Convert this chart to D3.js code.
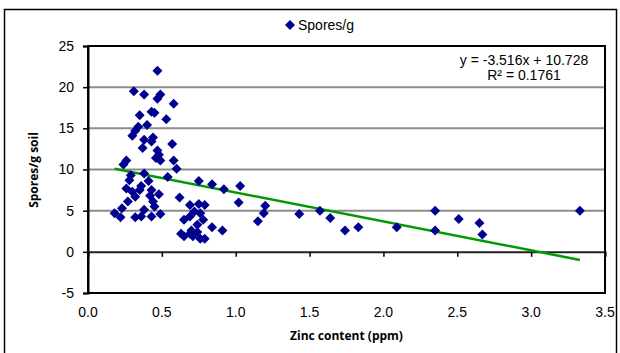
<!DOCTYPE html>
<html>
<head>
<meta charset="utf-8">
<script src="https://cdn.jsdelivr.net/npm/d3@7"></script>
<style>
  html, body { margin: 0; padding: 0; background: #fff; }
  svg { display: block; font-family: "Liberation Sans", Arial, sans-serif; }
</style>
</head>
<body>
<svg id="chart" width="620" height="353"></svg>
<script>
// Zinc content (ppm) of each soil sample
const zinc = [
  0.47, 0.31, 0.38, 0.49, 0.47, 0.58, 0.35, 0.43, 0.45, 0.53,
  0.34, 0.40, 0.32, 0.30, 0.38, 0.44, 0.43, 0.37, 0.57, 0.47,
  0.48, 0.46, 0.49, 0.58, 0.60, 0.26, 0.24, 0.38, 0.29, 0.28,
  0.41, 0.54, 0.26, 0.36, 0.35, 0.30, 0.43, 0.32, 0.42, 0.48,
  0.27, 0.44, 0.62, 0.75, 0.45, 0.23, 0.18, 0.22, 0.32, 0.36,
  0.38, 0.43, 0.49, 0.65, 0.69, 0.63, 0.69, 0.74,
  0.84, 0.92, 1.03, 1.02, 0.75, 0.79, 0.72, 0.76, 0.69, 0.78,
  0.84, 0.91, 0.70, 0.71, 0.76, 0.79, 0.65, 0.74,
  1.20, 1.19, 1.15, 1.43, 1.57, 1.64, 1.74, 1.83, 2.09,
  2.35, 2.35, 2.51, 2.65, 2.67, 3.33
];
// Spores per gram of soil for the same samples
const spores = [
  22.0, 19.5, 19.1, 19.1, 18.6, 18.0, 16.6, 17.0, 16.9, 16.1,
  15.2, 15.4, 14.7, 14.1, 13.6, 13.9, 13.4, 12.6, 13.1, 12.3,
  11.8, 11.4, 11.1, 11.1, 10.1, 11.1, 10.6, 9.5, 9.3, 8.7,
  8.6, 9.1, 7.7, 8.0, 7.5, 7.3, 7.5, 6.7, 6.8, 7.0,
  6.1, 6.1, 6.6, 8.6, 5.5, 5.3, 4.7, 4.2, 4.2, 4.3,
  5.1, 4.3, 4.6, 3.9, 5.7, 2.2, 2.2, 3.3,
  8.2, 7.6, 8.0, 6.0, 5.8, 5.7, 4.9, 4.7, 4.3, 3.9,
  3.0, 2.6, 2.6, 1.9, 1.6, 1.6, 1.9, 2.4,
  5.6, 4.7, 3.7, 4.6, 5.0, 4.1, 2.6, 3.0, 3.0,
  5.0, 2.6, 4.0, 3.5, 2.1, 5.0
];

const xTicks = [0, 0.5, 1.0, 1.5, 2.0, 2.5, 3.0, 3.5];
const yTicks = [-5, 0, 5, 10, 15, 20, 25];

// Linear trendline reported on the chart
const slope = -3.516;
const intercept = 10.728;
const rSquared = 0.1761;

const seriesName = "Spores/g";
const xTitle = "Zinc content (ppm)";
const yTitle = "Spores/g soil";

const svg = d3.select("#chart");
const plot = { left: 88, top: 46, right: 605, bottom: 293 };

const x = d3.scaleLinear().domain([0, 3.5]).range([plot.left, plot.right]);
const y = d3.scaleLinear().domain([-5, 25]).range([plot.bottom, plot.top]);

// plain hyphen for negative tick values
const intFmt = d => String(d);

// outer chart frame
svg.append("rect")
  .attr("x", 4.5).attr("y", 9.5).attr("width", 612).attr("height", 360)
  .attr("fill", "#fff").attr("stroke", "#000").attr("stroke-width", 1.5);

// horizontal gridlines
svg.append("g")
  .selectAll("line")
  .data(yTicks.filter(t => t > -5 && t < 25 && t !== 0))
  .join("line")
  .attr("x1", plot.left).attr("x2", plot.right)
  .attr("y1", d => y(d)).attr("y2", d => y(d))
  .attr("stroke", "#8c8c8c").attr("stroke-width", 2);

// plot area border
svg.append("rect")
  .attr("x", plot.left).attr("y", plot.top)
  .attr("width", plot.right - plot.left).attr("height", plot.bottom - plot.top)
  .attr("fill", "none").attr("stroke", "#000").attr("stroke-width", 2);

// y axis with ticks pointing left
const yAxis = svg.append("g")
  .attr("transform", `translate(${plot.left},0)`)
  .call(d3.axisLeft(y).tickValues(yTicks).tickSize(5).tickPadding(9).tickFormat(intFmt));
yAxis.select(".domain").attr("stroke", "#000").attr("stroke-width", 2);
yAxis.selectAll(".tick line").attr("stroke", "#000").attr("stroke-width", 1.5);
yAxis.selectAll(".tick text")
  .attr("font-size", 14).attr("fill", "#000")
  .attr("font-family", "Liberation Sans, Arial, sans-serif");

// x axis drawn along y = 0, labels placed below the plot
const xAxis = svg.append("g")
  .attr("transform", `translate(0,${y(0)})`)
  .call(d3.axisBottom(x).tickValues(xTicks).tickSize(5).tickFormat(d3.format(".1f")));
xAxis.select(".domain").attr("stroke", "#222").attr("stroke-width", 2);
xAxis.selectAll(".tick line").attr("stroke", "#000").attr("stroke-width", 1.5);
xAxis.selectAll(".tick text").remove();

svg.append("g")
  .selectAll("text")
  .data(xTicks)
  .join("text")
  .attr("x", d => x(d))
  .attr("y", plot.bottom + 24)
  .attr("text-anchor", "middle")
  .attr("font-size", 14)
  .attr("fill", "#000")
  .text(d => d.toFixed(1));

// trendline across the range of the samples
const [xMin, xMax] = d3.extent(zinc);
svg.append("line")
  .attr("x1", x(xMin)).attr("y1", y(slope * xMin + intercept))
  .attr("x2", x(xMax)).attr("y2", y(slope * xMax + intercept))
  .attr("stroke", "#009a00").attr("stroke-width", 2.5);

// sample markers
const diamond = "M0,-5L5,0L0,5L-5,0Z";
svg.append("g")
  .selectAll("path")
  .data(d3.zip(zinc, spores))
  .join("path")
  .attr("d", diamond)
  .attr("transform", d => `translate(${x(d[0])},${y(d[1])})`)
  .attr("fill", "#000090");

// trendline equation
const eqX = 524;
svg.append("text")
  .attr("x", eqX).attr("y", 65).attr("text-anchor", "middle")
  .attr("font-size", 14).attr("fill", "#000")
  .text(`y = ${slope}x + ${intercept}`);
svg.append("text")
  .attr("x", eqX).attr("y", 80).attr("text-anchor", "middle")
  .attr("font-size", 14).attr("fill", "#000")
  .text(`R² = ${rSquared}`);

// legend
const legend = svg.append("g").attr("transform", "translate(290,25)");
legend.append("path").attr("d", "M0,-5L5,0L0,5L-5,0Z").attr("fill", "#000090");
legend.append("text")
  .attr("x", 8).attr("y", 5)
  .attr("font-size", 14).attr("fill", "#000")
  .text(seriesName);

// axis titles
svg.append("text")
  .attr("x", (plot.left + plot.right) / 2).attr("y", 340)
  .attr("text-anchor", "middle")
  .attr("font-family", "Open Sans, sans-serif")
  .attr("font-weight", "bold").attr("font-size", 12).attr("fill", "#000")
  .text(xTitle);

svg.append("text")
  .attr("transform", "translate(38,170) rotate(-90)")
  .attr("text-anchor", "middle")
  .attr("font-family", "Open Sans, sans-serif")
  .attr("font-weight", "bold").attr("font-size", 12).attr("fill", "#000")
  .text(yTitle);
</script>
</body>
</html>
